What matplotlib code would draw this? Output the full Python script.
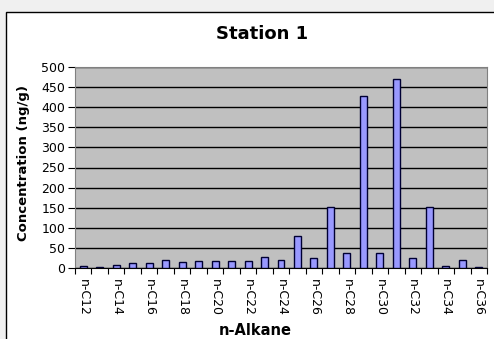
import matplotlib.pyplot as plt
from matplotlib.patches import Rectangle
import numpy as np

plt.rcParams['font.family'] = ['DejaVu Sans']

# n-alkane chain lengths and measured concentrations (ng/g)
carbons = list(range(12, 37))
conc = [4, 3, 7, 12, 12, 21, 15, 18, 18, 18, 18, 28, 19, 80, 25,
        151, 37, 428, 37, 469, 24, 151, 6, 21, 2]
labels = [f'n-C{c}' for c in carbons]

W, H = 494, 339
fig = plt.figure(figsize=(W / 100, H / 100), dpi=100)
fig.patch.set_facecolor('#f0f0f0')
# white chart area with a black frame
fig.patches.append(Rectangle((6 / W, -0.05), 1.0, 1 - 12 / H + 0.05,
                             transform=fig.transFigure, facecolor='white',
                             edgecolor='black', linewidth=1, zorder=-10))

ax = fig.add_axes([75 / W, (H - 268) / H, 412 / W, 201 / H])
ax.set_facecolor('#c0c0c0')

x = np.arange(len(carbons))
ax.bar(x, conc, width=0.42, color='#9999ff', edgecolor='#000033',
       linewidth=1, zorder=3)

ax.set_xlim(-0.5, len(carbons) - 0.5)
ax.set_ylim(0, 500)
ax.set_yticks(range(0, 501, 50))
ax.yaxis.grid(True, color='black', linewidth=1, zorder=1)

ax.set_xticks(x[::2])
ax.set_xticklabels(labels[::2], rotation=270, fontsize=9)
ax.set_xticks(np.arange(-0.5, len(carbons), 1), minor=True)
ax.tick_params(axis='x', which='major', length=0, pad=8)
ax.tick_params(axis='x', which='minor', length=4, width=0.8)
ax.tick_params(axis='y', length=5, width=0.8, labelsize=9, pad=2)

for side in ['top', 'right', 'left']:
    ax.spines[side].set_color('#808080')
ax.spines['bottom'].set_color('black')

fig.text(262 / W, 1 - 39 / H, 'Station 1', fontsize=13, fontweight='bold',
         ha='center', va='baseline')
fig.text(23 / W, 1 - 163 / H, 'Concentration (ng/g)', fontsize=9.5,
         fontweight='bold', rotation=90, ha='center', va='center')
fig.text(255 / W, 1 - 335 / H, 'n-Alkane', fontsize=10.5, fontweight='bold',
         ha='center', va='baseline')

fig.savefig('out.png', dpi=100, facecolor=fig.get_facecolor())
